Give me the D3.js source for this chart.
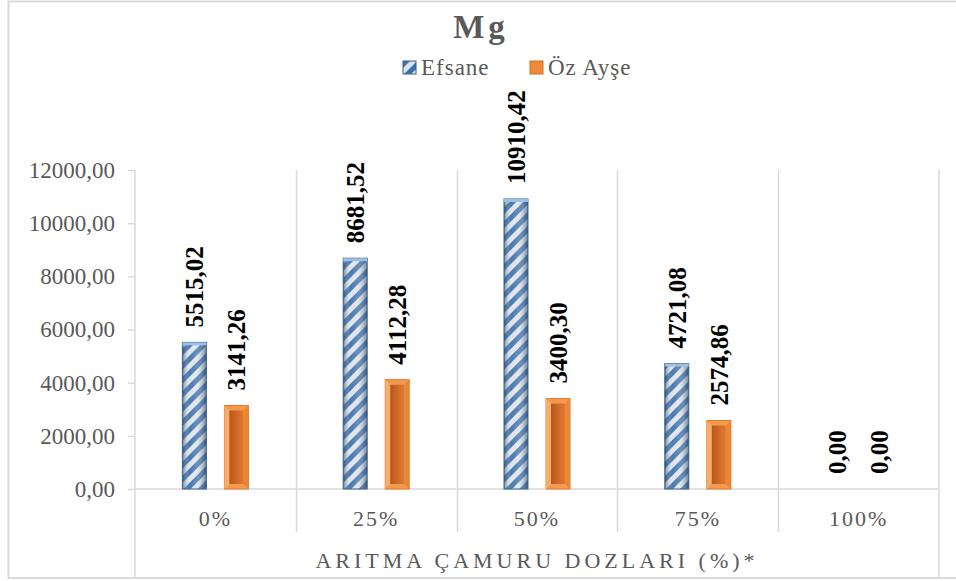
<!DOCTYPE html>
<html>
<head>
<meta charset="utf-8">
<script src="https://cdn.jsdelivr.net/npm/d3@7"></script>
<style>
  body { margin: 0; background: #fff; }
  svg { display: block; font-family: "Liberation Serif", "Times New Roman", serif; }
</style>
</head>
<body>
<svg id="chart"></svg>
<script>
// Chart data
const categories = ["0%", "25%", "50%", "75%", "100%"];
const seriesNames = ["Efsane", "Öz Ayşe"];
const efsane = [5515.02, 8681.52, 10910.42, 4721.08, 0.00];
const ozAyse = [3141.26, 4112.28, 3400.30, 2574.86, 0.00];
const yTicks = [0, 2000, 4000, 6000, 8000, 10000, 12000];

const width = 956;
const height = 581;
const plot = { left: 135, right: 939, top: 170, bottom: 489 };

const svg = d3.select("#chart")
  .attr("width", width)
  .attr("height", height);

const fmt = v => d3.format(".2f")(v).replace(".", ",");
const gray = "#595959";
const lineColor = "#d9d9d9";

// Patterns and gradients for the bevelled bars
const defs = svg.append("defs");

const stripes = defs.append("pattern")
  .attr("id", "stripes")
  .attr("patternUnits", "userSpaceOnUse")
  .attr("width", 10)
  .attr("height", 10)
  .attr("patternTransform", "rotate(45)");
stripes.append("rect").attr("width", 10).attr("height", 10).attr("fill", "#dde3ea");
stripes.append("rect").attr("width", 5).attr("height", 10).attr("fill", "#3f72aa");

const shade = defs.append("linearGradient").attr("id", "shade");
shade.append("stop").attr("offset", "0%").attr("stop-color", "#1d3b5e").attr("stop-opacity", 0.6);
shade.append("stop").attr("offset", "30%").attr("stop-color", "#ffffff").attr("stop-opacity", 0.05);
shade.append("stop").attr("offset", "60%").attr("stop-color", "#ffffff").attr("stop-opacity", 0.2);
shade.append("stop").attr("offset", "100%").attr("stop-color", "#1d3b5e").attr("stop-opacity", 0.6);

const orangeIn = defs.append("linearGradient").attr("id", "orangeIn");
orangeIn.append("stop").attr("offset", "0%").attr("stop-color", "#b9561a");
orangeIn.append("stop").attr("offset", "100%").attr("stop-color", "#e27a30");

// Frame of the whole chart
svg.append("path")
  .attr("d", `M8.5,${height - 3} V1.5 H${width}`)
  .attr("fill", "none")
  .attr("stroke", lineColor)
  .attr("stroke-width", 2);
svg.append("line")
  .attr("x1", 8).attr("x2", width)
  .attr("y1", height - 3).attr("y2", height - 3)
  .attr("stroke", lineColor).attr("stroke-width", 2);

// Scales
const x0 = d3.scaleBand()
  .domain(categories)
  .range([plot.left, plot.right]);

const x1 = d3.scaleBand()
  .domain(seriesNames)
  .range([x0.bandwidth() / 2 - 33, x0.bandwidth() / 2 + 33])
  .paddingInner(0.43);

const y = d3.scaleLinear()
  .domain([0, 12000])
  .range([plot.bottom, plot.top]);

// Category divider lines (gridlines plus tick marks below the axis)
svg.append("g")
  .selectAll("line")
  .data(categories.slice(1))
  .enter().append("line")
  .attr("x1", d => Math.round(x0(d)) + 0.5)
  .attr("x2", d => Math.round(x0(d)) + 0.5)
  .attr("y1", plot.top)
  .attr("y2", 532)
  .attr("stroke", lineColor)
  .attr("stroke-width", 1.5);

// Outer category lines run to the bottom
[plot.left, plot.right].forEach(xp => {
  svg.append("line")
    .attr("x1", xp).attr("x2", xp)
    .attr("y1", plot.top).attr("y2", height - 3)
    .attr("stroke", lineColor)
    .attr("stroke-width", 1.5);
});

// Y axis
const yAxis = svg.append("g")
  .attr("transform", `translate(${plot.left},0)`)
  .call(d3.axisLeft(y).tickValues(yTicks).tickFormat(fmt).tickSize(7).tickPadding(13));
yAxis.select(".domain").remove();
yAxis.selectAll(".tick line").attr("stroke", lineColor).attr("stroke-width", 1.5);
yAxis.selectAll(".tick text")
  .attr("fill", gray)
  .attr("font-size", 23)
  .attr("font-family", "Liberation Serif, Times New Roman, serif");

// Baseline
svg.append("line")
  .attr("x1", plot.left).attr("x2", plot.right)
  .attr("y1", plot.bottom).attr("y2", plot.bottom)
  .attr("stroke", lineColor)
  .attr("stroke-width", 1.5);

// Category labels
svg.append("g")
  .selectAll("text")
  .data(categories)
  .enter().append("text")
  .attr("x", d => x0(d) + x0.bandwidth() / 2)
  .attr("y", 526)
  .attr("text-anchor", "middle")
  .attr("font-size", 22)
  .attr("letter-spacing", 2)
  .attr("fill", gray)
  .text(d => d);

// Axis title
svg.append("text")
  .attr("x", (plot.left + plot.right) / 2)
  .attr("y", 568)
  .attr("text-anchor", "middle")
  .attr("font-size", 22)
  .attr("letter-spacing", 4)
  .attr("fill", gray)
  .text("ARITMA ÇAMURU DOZLARI (%)*");

// Bars
const rows = categories.map((c, i) => ({
  cat: c,
  values: [
    { name: "Efsane", value: efsane[i] },
    { name: "Öz Ayşe", value: ozAyse[i] }
  ]
}));

const groups = svg.append("g")
  .selectAll("g")
  .data(rows)
  .enter().append("g")
  .attr("transform", d => `translate(${x0(d.cat)},0)`);

const bars = groups.selectAll("g.bar")
  .data(d => d.values)
  .enter().append("g")
  .attr("class", "bar");

// Efsane bars: striped with cylindrical shading
bars.filter(d => d.name === "Efsane" && d.value > 0).each(function(d) {
  const g = d3.select(this);
  const bx = x1(d.name), bw = x1.bandwidth();
  const by = y(d.value), bh = y(0) - y(d.value);
  g.append("rect").attr("x", bx).attr("y", by).attr("width", bw).attr("height", bh)
    .attr("fill", "url(#stripes)");
  g.append("rect").attr("x", bx).attr("y", by).attr("width", bw).attr("height", bh)
    .attr("fill", "url(#shade)")
    .attr("stroke", "#34628f").attr("stroke-width", 1);
  g.append("rect").attr("x", bx).attr("y", by).attr("width", bw).attr("height", 3)
    .attr("fill", "#9fc0e2");
});

// Öz Ayşe bars: orange with inner bevel
bars.filter(d => d.name === "Öz Ayşe" && d.value > 0).each(function(d) {
  const g = d3.select(this);
  const bx = x1(d.name), bw = x1.bandwidth();
  const by = y(d.value), bh = y(0) - y(d.value);
  g.append("rect").attr("x", bx).attr("y", by).attr("width", bw).attr("height", bh)
    .attr("fill", "#f59a4c").attr("stroke", "#e0772a").attr("stroke-width", 1);
  g.append("path")
    .attr("d", `M${bx},${by} L${bx + 5},${by + 5} V${y(0) - 5} L${bx},${y(0)} Z`)
    .attr("fill", "#f7ad6c");
  g.append("path")
    .attr("d", `M${bx + bw},${by} L${bx + bw - 5},${by + 5} V${y(0) - 5} L${bx + bw},${y(0)} Z`)
    .attr("fill", "#e98737");
  g.append("rect").attr("x", bx + 5).attr("y", by + 5).attr("width", bw - 10).attr("height", Math.max(0, bh - 10))
    .attr("fill", "url(#orangeIn)");
});

// Value labels
bars.append("text")
  .attr("transform", d => `translate(${x1(d.name) + x1.bandwidth() / 2},${y(d.value) - 15}) rotate(-90)`)
  .attr("dy", "0.35em")
  .attr("text-anchor", "start")
  .attr("font-size", 25)
  .attr("font-weight", "bold")
  .attr("fill", "#000")
  .text(d => fmt(d.value));

// Title
svg.append("text")
  .attr("x", 481)
  .attr("y", 38)
  .attr("text-anchor", "middle")
  .attr("font-size", 33)
  .attr("font-weight", "bold")
  .attr("letter-spacing", 4)
  .attr("fill", gray)
  .text("Mg");

// Legend
const legend = svg.append("g");
const legendItems = [
  { name: "Efsane", x: 403, fill: "url(#stripes)", stroke: "#34628f" },
  { name: "Öz Ayşe", x: 530, fill: "#ef8a3a", stroke: "#d86e22" }
];
const li = legend.selectAll("g")
  .data(legendItems)
  .enter().append("g")
  .attr("transform", d => `translate(${d.x},61)`);
li.append("rect")
  .attr("width", 13).attr("height", 13)
  .attr("fill", d => d.fill)
  .attr("stroke", d => d.stroke);
li.append("text")
  .attr("x", 18)
  .attr("y", 14)
  .attr("font-size", 23)
  .attr("letter-spacing", 1)
  .attr("fill", gray)
  .text(d => d.name);
</script>
</body>
</html>
